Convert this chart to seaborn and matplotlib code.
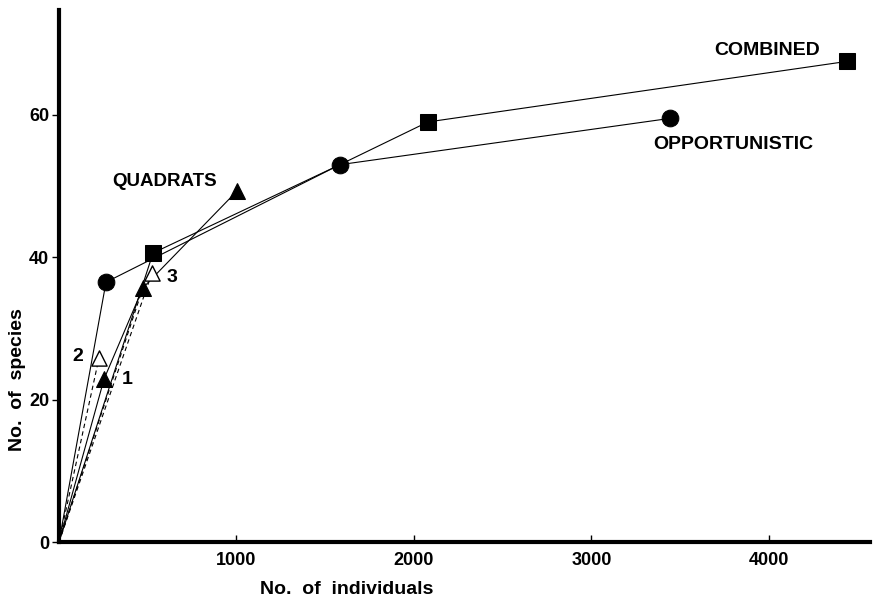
import numpy as np
import pandas as pd
import matplotlib
matplotlib.use("Agg")
import matplotlib.pyplot as plt
import seaborn as sns

# values
opp_x = [0, 265, 1583, 3442]
opp_y = [0, 36.5, 53.0, 59.5]

comb_x = [0, 530, 1583, 2079, 4439]
comb_y = [0, 40.6, 53.0, 59.0, 67.5]

quad_x = [0, 254, 473, 1003]
quad_y = [0, 22.9, 35.7, 49.3]

single_x = [225, 524]          # quadrats 2 and 3 alone
single_y = [25.8, 37.8]
dashed_to = [(225, 25.8), (524, 37.8), (473, 35.7)]

sns.set_style("ticks")
plt.rcParams['font.family'] = ['Liberation Sans', 'DejaVu Sans']
plt.rcParams.update({"text.color": "black", "axes.labelcolor": "black",
                     "xtick.color": "black", "ytick.color": "black",
                     "axes.edgecolor": "black"})

fig = plt.figure(figsize=(8.75, 5.97), dpi=100)
ax = fig.add_axes([0.0674, 0.092, 0.927, 0.891])

lw = 0.8
# dashed lines from the origin to single quadrats
for x, y in dashed_to:
    ax.plot([0, x], [0, y], color="black", lw=lw, ls=(0, (4, 3)), zorder=1)

sns.lineplot(x=comb_x, y=comb_y, ax=ax, color="black", lw=lw, sort=False,
             marker="s", markersize=12, markeredgecolor="black", zorder=2,
             markevery=[1, 3, 4])
sns.lineplot(x=opp_x, y=opp_y, ax=ax, color="black", lw=lw, sort=False,
             marker="o", markersize=12, markeredgecolor="black", zorder=3,
             markevery=[1, 2, 3])
sns.lineplot(x=quad_x, y=quad_y, ax=ax, color="black", lw=lw, sort=False,
             marker="^", markersize=11, markeredgecolor="black", zorder=3,
             markevery=[1, 2, 3])

sns.scatterplot(x=single_x, y=single_y, ax=ax, marker="^", s=120,
                facecolor="white", edgecolor="black", linewidth=1.0, zorder=4)

bold = dict(fontweight="bold", color="black")
ax.text(3989, 69.1, "COMBINED", ha="center", va="center", fontsize=14, **bold)
ax.text(3797, 55.8, "OPPORTUNISTIC", ha="center", va="center", fontsize=14, **bold)
ax.text(597, 50.6, "QUADRATS", ha="center", va="center", fontsize=13.5, **bold)
ax.text(383, 22.8, "1", ha="center", va="center", fontsize=14, **bold)
ax.text(107, 26.0, "2", ha="center", va="center", fontsize=14, **bold)
ax.text(637, 37.1, "3", ha="center", va="center", fontsize=14, **bold)

ax.set_xlim(0, 4570)
ax.set_ylim(0, 74.7)
ax.set_xticks([1000, 2000, 3000, 4000])
ax.set_yticks([0, 20, 40, 60])
ax.tick_params(axis="x", direction="in", length=5, width=1, labelsize=13, pad=7)
ax.tick_params(axis="y", direction="out", length=5, width=1, labelsize=13, pad=2)
for lab in ax.get_xticklabels() + ax.get_yticklabels():
    lab.set_fontweight("bold")

for side in ["top", "right"]:
    ax.spines[side].set_visible(False)
for side in ["left", "bottom"]:
    ax.spines[side].set_linewidth(3)
    ax.spines[side].set_color("black")

ax.set_xlabel("No.  of  individuals", fontsize=14, fontweight="bold")
ax.xaxis.set_label_coords(0.355, -0.073)
ax.set_ylabel("No.  of  species", fontsize=14, fontweight="bold")
ax.yaxis.set_label_coords(-0.041, 0.305)
if ax.get_legend():
    ax.get_legend().remove()

fig.savefig("out.png", dpi=100)
